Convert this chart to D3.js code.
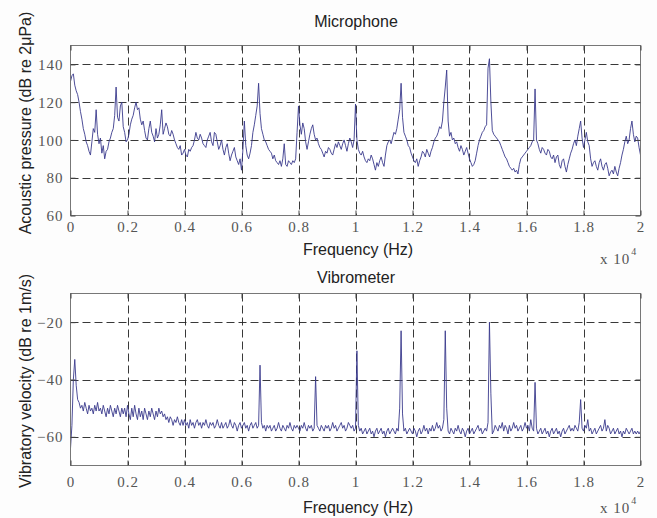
<!DOCTYPE html>
<html><head><meta charset="utf-8">
<script src="https://cdn.jsdelivr.net/npm/d3@7"></script>
<style>
html,body{margin:0;padding:0;background:#fdfdfd;}
svg{display:block;}
</style></head><body>
<svg id="chart" width="657" height="518"></svg>
<script>
// ---------------- DATA ----------------
const micFreqStep = 50; // Hz between samples of the microphone spectrum
const micLevels = [
 131,134,135,129,126,124,120,115,111,106,103,99,97,94,92,99,106,104,116,103,
 98,101,93,97,90,94,95,99,101,104,106,113,128,112,110,118,120,107,104,99,
 100,103,108,111,113,117,120,116,117,111,108,110,105,101,100,106,110,104,102,99,
 106,101,103,108,116,103,106,109,107,103,102,105,103,100,98,96,95,97,92,93,
 95,92,91,95,94,96,97,100,104,101,100,103,101,98,97,96,100,102,104,99,
 97,104,103,99,95,97,100,95,92,96,98,93,89,92,94,96,91,89,87,90,
 84,95,110,97,92,90,93,97,104,108,113,118,130,114,106,103,100,99,97,95,
 94,93,90,92,89,88,87,89,86,90,98,87,86,89,88,87,89,88,90,104,
 118,108,103,109,106,99,95,99,103,106,108,103,100,101,98,96,95,93,91,94,
 93,96,95,93,92,95,98,96,99,97,95,98,100,97,94,98,101,99,96,100,
 119,100,95,93,92,94,91,89,88,90,89,92,90,87,84,88,86,89,91,88,
 86,92,97,99,100,98,101,104,103,106,111,116,130,112,104,102,100,97,96,93,
 91,89,88,90,86,89,91,94,93,91,95,93,91,94,96,99,101,102,104,107,
 106,110,120,128,137,110,102,104,100,101,98,99,96,94,97,95,92,94,96,93,
 90,88,86,87,89,93,97,100,102,104,105,107,108,138,143,120,105,103,102,101,
 100,99,97,95,93,91,90,88,86,85,84,85,83,84,82,87,90,91,92,93,
 94,95,96,97,99,100,127,100,98,95,93,96,95,93,92,95,94,91,90,92,
 88,91,92,87,85,89,90,86,83,87,90,93,95,98,100,97,102,106,110,101,
 96,100,104,99,97,90,86,88,89,86,84,88,90,86,84,87,88,85,81,83,
 84,82,86,83,81,85,88,92,95,99,102,98,100,106,110,103,99,102,101,96,
 92
];
const vibFreqStep = 50; // Hz between samples of the vibrometer spectrum
const vibLevels = [
 -64,-56,-40,-33,-42,-47,-48,-50,-49,-51,-48,-50,-52,-49,-51,-50,-52,-49,-51,-48,
 -51,-50,-52,-49,-51,-53,-50,-52,-49,-51,-53,-50,-52,-49,-51,-53,-50,-52,-50,-53,
 -49,-52,-54,-50,-53,-49,-52,-54,-50,-53,-51,-54,-50,-52,-54,-51,-53,-50,-52,-54,
 -51,-53,-50,-52,-51,-53,-52,-54,-53,-55,-53,-54,-56,-54,-55,-53,-55,-56,-54,-56,
 -54,-56,-55,-57,-54,-56,-55,-57,-55,-54,-56,-55,-57,-55,-56,-54,-56,-57,-55,-56,
 -55,-57,-56,-54,-56,-57,-55,-57,-56,-55,-57,-56,-54,-56,-57,-55,-56,-58,-56,-55,
 -57,-56,-55,-57,-56,-58,-56,-55,-57,-56,-55,-57,-56,-35,-55,-57,-56,-58,-56,-57,
 -56,-58,-57,-56,-58,-57,-55,-57,-58,-56,-57,-58,-56,-57,-55,-57,-58,-56,-57,-56,
 -57,-58,-56,-57,-55,-57,-58,-56,-57,-56,-58,-57,-39,-56,-57,-58,-56,-57,-58,-56,
 -57,-56,-58,-57,-55,-57,-56,-58,-57,-56,-55,-57,-56,-58,-57,-55,-56,-57,-56,-58,
 -57,-30,-56,-58,-57,-59,-58,-57,-59,-58,-57,-59,-58,-60,-58,-57,-59,-58,-57,-59,
 -58,-60,-58,-57,-59,-58,-57,-58,-59,-57,-58,-50,-23,-52,-58,-57,-59,-58,-57,-58,
 -59,-57,-58,-60,-58,-57,-59,-58,-56,-58,-57,-59,-57,-58,-56,-58,-57,-55,-57,-56,
 -58,-57,-54,-23,-50,-58,-59,-57,-58,-59,-57,-58,-56,-58,-59,-57,-58,-60,-58,-57,
 -59,-58,-57,-59,-58,-57,-56,-58,-57,-59,-58,-57,-58,-55,-20,-45,-59,-58,-56,-57,
 -58,-56,-57,-55,-58,-56,-57,-59,-56,-58,-57,-55,-57,-56,-58,-57,-56,-58,-57,-55,
 -57,-56,-58,-54,-57,-58,-41,-57,-59,-58,-57,-59,-58,-57,-59,-58,-60,-58,-57,-59,
 -58,-57,-59,-58,-60,-58,-57,-59,-58,-57,-56,-58,-57,-58,-56,-57,-58,-55,-47,-57,
 -58,-56,-57,-54,-58,-57,-59,-58,-57,-59,-58,-57,-56,-58,-57,-54,-58,-56,-57,-59,
 -58,-57,-59,-58,-57,-59,-58,-60,-58,-59,-57,-58,-59,-58,-57,-59,-58,-59,-58,-59,
 -58
];
const freqTicks = [0,2000,4000,6000,8000,10000,12000,14000,16000,18000,20000];
const freqTickLabels = ["0","0.2","0.4","0.6","0.8","1","1.2","1.4","1.6","1.8","2"];
const micTicks = [60,80,100,120,140];
const vibTicks = [-60,-40,-20];
const micDomain = [60,150];
const vibDomain = [-70,-10];
const freqDomain = [0,20000];
const titles = ["Microphone","Vibrometer"];
const yLabels = ["Acoustic pressure (dB re 2\u03bcPa)","Vibratory velocity (dB re 1m/s)"];
const xLabel = "Frequency (Hz)";

// ---------------- LAYOUT ----------------
const svg = d3.select("#chart");
const left = 70.5, right = 640.5;
const panels = [
  {top:45.5, bottom:215.5, step:micFreqStep, values:micLevels, domain:micDomain, ticks:micTicks,
   title:titles[0], ylab:yLabels[0], titleY:27, tickY:232, xlabY:255, x10Y:264, ylabY:123, clip:"c1"},
  {top:293.5, bottom:465.5, step:vibFreqStep, values:vibLevels, domain:vibDomain, ticks:vibTicks,
   title:titles[1], ylab:yLabels[1], titleY:283, tickY:487, xlabY:513, x10Y:513, ylabY:381, clip:"c2"}
];
const x = d3.scaleLinear().domain(freqDomain).range([left,right]);
const lineColor = "#3a3a8c";
const serif = "'Liberation Serif','Times New Roman',serif";
const sans = "'Liberation Sans',Arial,sans-serif";

const defs = svg.append("defs");

panels.forEach(p => {
  const y = d3.scaleLinear().domain(p.domain).range([p.bottom,p.top]);
  const g = svg.append("g");
  defs.append("clipPath").attr("id",p.clip).append("rect")
    .attr("x",left).attr("y",p.top).attr("width",right-left).attr("height",p.bottom-p.top);

  g.append("rect").attr("x",left).attr("y",p.top).attr("width",right-left).attr("height",p.bottom-p.top)
    .attr("fill","#ffffff");

  // grid
  g.append("g").selectAll("line").data(p.ticks.filter(t=>t>p.domain[0])).join("line")
    .attr("x1",left).attr("x2",right).attr("y1",d=>Math.round(y(d))+0.5).attr("y2",d=>Math.round(y(d))+0.5)
    .attr("stroke","#222").attr("stroke-width",0.9).attr("stroke-dasharray","8,4");
  g.append("g").selectAll("line").data(freqTicks.filter(t=>t>freqDomain[0] && t<freqDomain[1])).join("line")
    .attr("y1",p.top).attr("y2",p.bottom).attr("x1",d=>Math.round(x(d))+0.5).attr("x2",d=>Math.round(x(d))+0.5)
    .attr("stroke","#222").attr("stroke-width",0.9).attr("stroke-dasharray","8,4");

  // data line
  const pts = p.values.map((v,i)=>[i*p.step, v]);
  g.append("path").datum(pts)
    .attr("clip-path",`url(#${p.clip})`)
    .attr("fill","none").attr("stroke",lineColor).attr("stroke-width",0.9).attr("stroke-linejoin","round")
    .attr("d", d3.line().x(d=>x(d[0])).y(d=>y(d[1])));

  // box
  g.append("rect").attr("x",left).attr("y",p.top).attr("width",right-left).attr("height",p.bottom-p.top)
    .attr("fill","none").attr("stroke","#777").attr("stroke-width",1);

  // axes
  const axB = g.append("g").attr("transform",`translate(0,${p.bottom})`)
    .call(d3.axisBottom(x).tickValues(freqTicks).tickFormat((d,i)=>freqTickLabels[i]).tickSizeInner(-5).tickSizeOuter(0).tickPadding(0));
  axB.selectAll("text").attr("dy",null).attr("y",p.tickY-p.bottom);
  const axT = g.append("g").attr("transform",`translate(0,${p.top})`)
    .call(d3.axisTop(x).tickValues(freqTicks).tickFormat("").tickSizeInner(-5).tickSizeOuter(0));
  const axL = g.append("g").attr("transform",`translate(${left},0)`)
    .call(d3.axisLeft(y).tickValues(p.ticks).tickSizeInner(-5).tickSizeOuter(0).tickPadding(7));
  axL.selectAll("text").attr("dy","0.34em");
  const axR = g.append("g").attr("transform",`translate(${right},0)`)
    .call(d3.axisRight(y).tickValues(p.ticks).tickFormat("").tickSizeInner(-5).tickSizeOuter(0));
  [axB,axT,axL,axR].forEach(a=>{
    a.select(".domain").remove();
    a.selectAll("line").attr("stroke","#444");
    a.selectAll("text").attr("font-family",serif).attr("font-size",15).attr("fill","#555").attr("letter-spacing","1px");
  });

  // labels
  svg.append("text").attr("x",356).attr("y",p.titleY).attr("text-anchor","middle")
    .attr("font-family",sans).attr("font-size",16).attr("fill","#222").text(p.title);
  svg.append("text").attr("x",358).attr("y",p.xlabY).attr("text-anchor","middle")
    .attr("font-family",sans).attr("font-size",16).attr("fill","#222").text(xLabel);
  const t10 = svg.append("text").attr("x",600).attr("y",p.x10Y)
    .attr("font-family",serif).attr("font-size",15).attr("fill","#555").attr("letter-spacing","1px");
  t10.append("tspan").text("x 10");
  t10.append("tspan").attr("font-size",10).attr("dy",-9).attr("dx",1).text("4");
  svg.append("text").attr("transform",`translate(31,${p.ylabY}) rotate(-90)`).attr("text-anchor","middle")
    .attr("font-family",sans).attr("font-size",16).attr("fill","#222").text(p.ylab);
});
</script>
</body></html>
